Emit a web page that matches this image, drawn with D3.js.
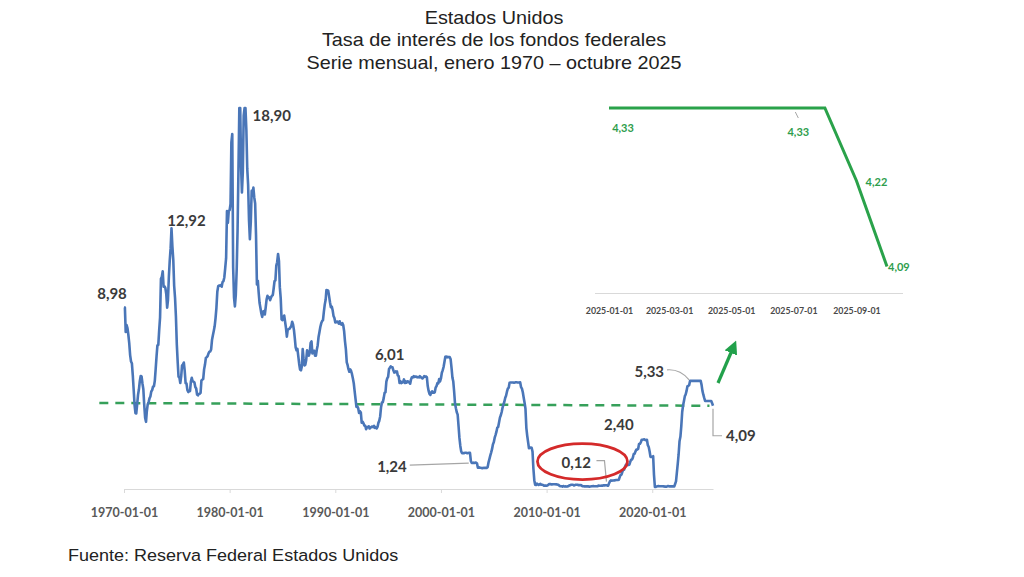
<!DOCTYPE html>
<html>
<head>
<meta charset="utf-8">
<script src="https://cdn.jsdelivr.net/npm/d3@7"></script>
<style>
  body { margin: 0; background: #fff; }
  svg { display: block; }
</style>
</head>
<body>
<div id="chart"></div>
<script>
// Tasa de fondos federales, mensual (una fila por año)
const rates1970s = [
  8.98, 8.98, 7.76, 8.10, 7.95, 7.61, 7.21, 6.61, 6.29, 6.20, 5.60, 4.90,
  4.14, 3.72, 3.71, 4.16, 4.63, 4.91, 5.31, 5.57, 5.55, 5.20, 4.91, 4.14,
  3.50, 3.29, 3.83, 4.17, 4.27, 4.46, 4.55, 4.80, 4.87, 5.04, 5.06, 5.33,
  5.94, 6.58, 7.09, 7.12, 7.84, 8.49, 10.40, 10.50, 10.78, 10.01, 10.03, 9.95,
  9.65, 8.97, 9.35, 10.51, 11.31, 11.93, 12.92, 12.01, 11.34, 10.06, 9.45, 8.53,
  7.13, 6.24, 5.54, 5.49, 5.22, 5.55, 6.10, 6.14, 6.24, 5.82, 5.22, 5.20,
  4.87, 4.77, 4.84, 4.82, 5.29, 5.48, 5.31, 5.29, 5.25, 5.02, 4.95, 4.65,
  4.61, 4.68, 4.69, 4.73, 5.35, 5.39, 5.42, 5.90, 6.14, 6.47, 6.51, 6.56,
  6.70, 6.78, 6.79, 6.89, 7.36, 7.60, 7.81, 8.04, 8.45, 8.96, 9.76, 10.03,
  10.07, 10.06, 10.09, 10.01, 10.24, 10.29, 10.47, 10.94, 11.43, 13.77, 13.18, 13.78
];
const rates1980s = [
  13.82, 14.13, 17.19, 17.61, 10.98, 9.47, 9.03, 9.61, 10.87, 12.81, 15.85, 18.90,
  18.90, 15.93, 14.70, 15.72, 18.52, 18.90, 18.90, 17.82, 15.87, 15.08, 13.31, 12.37,
  13.22, 14.78, 14.68, 14.94, 14.45, 14.15, 12.59, 10.12, 10.31, 9.71, 9.20, 8.95,
  8.68, 8.51, 8.77, 8.80, 8.63, 8.98, 9.37, 9.56, 9.45, 9.48, 9.34, 9.47,
  9.56, 9.59, 9.91, 10.29, 10.32, 11.06, 11.23, 11.64, 11.30, 9.99, 9.43, 8.38,
  8.35, 8.50, 8.58, 8.27, 7.97, 7.53, 7.88, 7.90, 7.92, 7.99, 8.05, 8.27,
  8.14, 7.86, 7.48, 6.99, 6.85, 6.92, 6.56, 6.17, 5.89, 5.85, 6.04, 6.91,
  6.43, 6.10, 6.13, 6.37, 6.85, 6.73, 6.58, 6.73, 7.22, 7.29, 6.69, 6.77,
  6.83, 6.58, 6.58, 6.87, 7.09, 7.51, 7.75, 8.01, 8.19, 8.30, 8.35, 8.76,
  9.12, 9.36, 9.85, 9.84, 9.81, 9.53, 9.24, 8.99, 9.02, 8.84, 8.55, 8.45
];
const rates1990s = [
  8.23, 8.24, 8.28, 8.26, 8.18, 8.29, 8.15, 8.13, 8.20, 8.11, 7.81, 7.31,
  6.91, 6.25, 6.12, 5.91, 5.78, 5.90, 5.82, 5.66, 5.45, 5.21, 4.81, 4.43,
  4.03, 4.06, 3.98, 3.73, 3.82, 3.76, 3.25, 3.30, 3.22, 3.10, 3.09, 2.92,
  3.02, 3.03, 3.07, 2.96, 3.00, 3.04, 3.06, 3.03, 3.09, 2.99, 3.02, 2.96,
  3.05, 3.25, 3.34, 3.56, 4.01, 4.25, 4.26, 4.47, 4.73, 4.76, 5.29, 5.45,
  5.53, 5.92, 5.98, 6.05, 6.01, 6.00, 5.85, 5.74, 5.80, 5.76, 5.80, 5.60,
  5.56, 5.22, 5.31, 5.22, 5.24, 5.27, 5.40, 5.22, 5.30, 5.24, 5.31, 5.29,
  5.25, 5.19, 5.39, 5.51, 5.50, 5.56, 5.52, 5.54, 5.54, 5.50, 5.52, 5.50,
  5.56, 5.51, 5.49, 5.45, 5.49, 5.56, 5.54, 5.55, 5.51, 5.07, 4.83, 4.68,
  4.63, 4.76, 4.81, 4.74, 4.74, 4.76, 4.99, 5.07, 5.22, 5.20, 5.42, 5.30
];
const rates2000s = [
  5.45, 5.73, 5.85, 6.02, 6.27, 6.53, 6.54, 6.50, 6.52, 6.51, 6.51, 6.40,
  5.98, 5.49, 5.31, 4.80, 4.21, 3.97, 3.77, 3.65, 3.07, 2.49, 2.09, 1.82,
  1.73, 1.74, 1.73, 1.75, 1.75, 1.75, 1.73, 1.74, 1.75, 1.75, 1.34, 1.24,
  1.24, 1.26, 1.25, 1.26, 1.26, 1.22, 1.01, 1.03, 1.01, 1.01, 1.00, 0.98,
  1.00, 1.01, 1.00, 1.00, 1.00, 1.03, 1.26, 1.43, 1.61, 1.76, 1.93, 2.16,
  2.28, 2.50, 2.63, 2.79, 3.00, 3.04, 3.26, 3.50, 3.62, 3.78, 4.00, 4.16,
  4.29, 4.49, 4.59, 4.79, 4.94, 4.99, 5.24, 5.25, 5.25, 5.25, 5.25, 5.24,
  5.25, 5.26, 5.26, 5.25, 5.25, 5.25, 5.26, 5.02, 4.94, 4.76, 4.49, 4.24,
  3.94, 2.98, 2.61, 2.28, 1.98, 2.00, 2.01, 2.00, 1.81, 0.97, 0.39, 0.16,
  0.15, 0.22, 0.18, 0.15, 0.18, 0.21, 0.16, 0.16, 0.15, 0.12, 0.12, 0.12
];
const rates2010s = [
  0.11, 0.13, 0.16, 0.20, 0.20, 0.18, 0.18, 0.19, 0.19, 0.19, 0.19, 0.18,
  0.17, 0.16, 0.14, 0.10, 0.09, 0.09, 0.07, 0.10, 0.08, 0.07, 0.08, 0.07,
  0.08, 0.10, 0.13, 0.14, 0.16, 0.16, 0.16, 0.13, 0.14, 0.16, 0.16, 0.16,
  0.14, 0.15, 0.14, 0.15, 0.11, 0.09, 0.09, 0.08, 0.08, 0.09, 0.08, 0.09,
  0.07, 0.07, 0.08, 0.09, 0.09, 0.10, 0.09, 0.09, 0.09, 0.09, 0.09, 0.12,
  0.11, 0.11, 0.11, 0.12, 0.12, 0.13, 0.13, 0.14, 0.14, 0.12, 0.12, 0.24,
  0.34, 0.38, 0.36, 0.37, 0.37, 0.38, 0.39, 0.40, 0.40, 0.40, 0.41, 0.54,
  0.65, 0.66, 0.79, 0.90, 0.91, 1.04, 1.15, 1.16, 1.15, 1.15, 1.16, 1.30,
  1.41, 1.42, 1.51, 1.69, 1.70, 1.82, 1.91, 1.91, 1.95, 2.19, 2.20, 2.27,
  2.40, 2.40, 2.41, 2.42, 2.39, 2.38, 2.40, 2.13, 2.04, 1.83, 1.55, 1.55
];
const rates2020s = [
  1.55, 1.58, 0.65, 0.05, 0.05, 0.08, 0.09, 0.10, 0.09, 0.09, 0.09, 0.09,
  0.09, 0.08, 0.07, 0.07, 0.06, 0.08, 0.10, 0.09, 0.08, 0.08, 0.08, 0.08,
  0.08, 0.08, 0.20, 0.33, 0.77, 1.21, 1.68, 2.33, 2.56, 3.08, 3.78, 4.10,
  4.33, 4.57, 4.65, 4.83, 5.06, 5.08, 5.12, 5.33, 5.33, 5.33, 5.33, 5.33,
  5.33, 5.33, 5.33, 5.33, 5.33, 5.33, 5.33, 5.33, 5.13, 4.83, 4.64, 4.48,
  4.33, 4.33, 4.33, 4.33, 4.33, 4.33, 4.33, 4.33, 4.22, 4.09
];

const xTicks = ["1970-01-01", "1980-01-01", "1990-01-01", "2000-01-01", "2010-01-01", "2020-01-01"];

// linea de referencia (verde punteada)
const refDates = ["1967-09-01", "2025-06-01"];
const refValues = [4.23, 4.09];

// recuadro 2025
const insetDates = ["2025-01-01", "2025-02-01", "2025-03-01", "2025-04-01", "2025-05-01",
                    "2025-06-01", "2025-07-01", "2025-08-01", "2025-09-01", "2025-10-01"];
const insetValues = [4.33, 4.33, 4.33, 4.33, 4.33, 4.33, 4.33, 4.33, 4.22, 4.09];
const insetTicks = ["2025-01-01", "2025-03-01", "2025-05-01", "2025-07-01", "2025-09-01"];

const parse = d3.timeParse("%Y-%m-%d");
const fmt = d3.timeFormat("%Y-%m-%d");
const comma = v => v.toFixed(2).replace(".", ",");

// armar la serie mensual
let series = [];
[[1970, rates1970s], [1980, rates1980s], [1990, rates1990s],
 [2000, rates2000s], [2010, rates2010s], [2020, rates2020s]].forEach(([y0, arr]) => {
  arr.forEach((v, i) => {
    series.push({ date: new Date(y0 + Math.floor(i / 12), i % 12, 1), value: v });
  });
});

const svg = d3.select("#chart").append("svg")
  .attr("width", 1024)
  .attr("height", 577);

// titulos (el original viene algo estirado a lo ancho)
const titles = ["Estados Unidos", "Tasa de interés de los fondos federales", "Serie mensual, enero 1970 – octubre 2025"];
svg.append("g")
  .attr("transform", "translate(494,0) scale(1.1,1)")
  .selectAll("text").data(titles).enter().append("text")
  .attr("x", 0)
  .attr("y", (d, i) => 24 + i * 22.5)
  .attr("text-anchor", "middle")
  .attr("font-family", "Liberation Sans, Arial, sans-serif")
  .attr("font-size", 18)
  .attr("fill", "#222")
  .text(d => d);

// escalas del grafico principal
const x = d3.scaleTime()
  .domain([parse("1970-01-01"), parse("2025-10-01")])
  .range([124, 713]);
const y = d3.scaleLinear()
  .domain([0, 18.9])
  .range([488, 108]);

// eje x
const xAxis = svg.append("g")
  .attr("transform", "translate(0,489)")
  .call(d3.axisBottom(x)
    .tickValues(xTicks.map(parse))
    .tickFormat(fmt)
    .tickSize(4)
    .tickSizeOuter(0));
xAxis.select(".domain").attr("stroke", "#d9d9d9").attr("stroke-width", 1.2);
xAxis.selectAll(".tick line").attr("stroke", "#d9d9d9");
xAxis.selectAll(".tick text")
  .attr("dy", 0)
  .attr("y", 28)
  .attr("font-family", "Lato, sans-serif")
  .attr("font-weight", "bold")
  .attr("font-size", 12.5)
  .attr("fill", "#595959");

// linea de referencia
svg.append("line")
  .attr("x1", x(parse(refDates[0])))
  .attr("y1", y(refValues[0]))
  .attr("x2", x(parse(refDates[1])))
  .attr("y2", y(refValues[1]))
  .attr("stroke", "#36a05a")
  .attr("stroke-width", 2.5)
  .attr("stroke-dasharray", "9,7");

// serie principal
const line = d3.line()
  .x(d => x(d.date))
  .y(d => y(d.value));
svg.append("path")
  .datum(series)
  .attr("d", line)
  .attr("fill", "none")
  .attr("stroke", "#4a76b8")
  .attr("stroke-width", 2.6)
  .attr("stroke-linejoin", "round");

// etiquetas
const labelFont = "Lato, sans-serif";
function label(txt, px, py, anchor) {
  svg.append("text")
    .attr("x", px)
    .attr("y", py)
    .attr("text-anchor", anchor || "start")
    .attr("font-family", labelFont)
    .attr("font-weight", "bold")
    .attr("font-size", 15)
    .attr("fill", "#3a3a3a")
    .text(txt);
}
const pt = (s, v) => [x(parse(s)), y(v)];

let p = pt("1970-01-01", 8.98);
label(comma(8.98), p[0] - 12, p[1] - 8, "middle");
p = pt("1974-07-01", 12.92);
label(comma(12.92), p[0] + 15, p[1] - 2, "middle");
p = pt("1981-06-01", 18.90);
label(comma(18.90), p[0] + 8, p[1] + 13);
p = pt("1995-04-01", 6.01);
label(comma(6.01), p[0] - 1, p[1] - 7, "middle");
p = pt("2019-01-01", 2.40);
label(comma(2.40), p[0] - 8, p[1] - 10, "end");

// 1,24 con guia
p = pt("2002-12-01", 1.24);
svg.append("line")
  .attr("x1", p[0] - 3).attr("y1", p[1])
  .attr("x2", p[0] - 62).attr("y2", p[1] + 2)
  .attr("stroke", "#a6a6a6").attr("stroke-width", 1.2);
label(comma(1.24), p[0] - 65, p[1] + 9, "end");

// 0,12 con guia y elipse
p = pt("2015-09-01", 0.12);
svg.append("path")
  .attr("d", `M${p[0] - 10},${p[1] - 25} L${p[0] - 2},${p[1] - 25} L${p[0]},${p[1] - 4}`)
  .attr("fill", "none").attr("stroke", "#a6a6a6").attr("stroke-width", 1.2);
label(comma(0.12), p[0] - 45, p[1] - 18, "start");
svg.append("ellipse")
  .attr("cx", p[0] - 24)
  .attr("cy", p[1] - 24)
  .attr("rx", 45)
  .attr("ry", 18)
  .attr("fill", "none")
  .attr("stroke", "#d42a2a")
  .attr("stroke-width", 2.8);

// 5,33 con guia
p = pt("2023-08-01", 5.33);
svg.append("path")
  .attr("d", `M${p[0] - 23},${p[1] - 11} Q${p[0] - 10},${p[1] - 12} ${p[0] - 1},${p[1] - 1}`)
  .attr("fill", "none").attr("stroke", "#a6a6a6").attr("stroke-width", 1.2);
label(comma(5.33), p[0] - 26, p[1] - 4, "end");

// 4,09 con guia
p = pt("2025-10-01", 4.09);
svg.append("path")
  .attr("d", `M${p[0]},${p[1] + 3} L${p[0]},${p[1] + 30} L${p[0] + 9},${p[1] + 30}`)
  .attr("fill", "none").attr("stroke", "#a6a6a6").attr("stroke-width", 1.2);
label(comma(4.09), p[0] + 13, p[1] + 35, "start");

// flecha verde hacia el recuadro
svg.append("defs").append("marker")
  .attr("id", "arrow")
  .attr("viewBox", "0 0 10 10")
  .attr("refX", 4).attr("refY", 5)
  .attr("markerWidth", 4.2).attr("markerHeight", 4.2)
  .attr("orient", "auto")
  .append("path")
  .attr("d", "M0,0 L10,5 L0,10 Z")
  .attr("fill", "#22a14b");
svg.append("line")
  .attr("x1", 718).attr("y1", 383)
  .attr("x2", 733).attr("y2", 348)
  .attr("stroke", "#22a14b")
  .attr("stroke-width", 3.2)
  .attr("marker-end", "url(#arrow)");

// ---- recuadro 2025 ----
const xi = d3.scaleTime()
  .domain([parse("2025-01-01"), parse("2025-10-01")])
  .range([609, 887]);
const yi = d3.scaleLinear()
  .domain([4.05, 4.33])
  .range([293, 108]);

svg.append("line")
  .attr("x1", 595).attr("x2", 903)
  .attr("y1", 293.5).attr("y2", 293.5)
  .attr("stroke", "#d9d9d9").attr("stroke-width", 1.2);
const iAxis = svg.append("g")
  .attr("transform", "translate(0,293.5)")
  .call(d3.axisBottom(xi)
    .tickValues(insetTicks.map(parse))
    .tickFormat(fmt)
    .tickSize(0)
    .tickSizeOuter(0));
iAxis.select(".domain").remove();
iAxis.selectAll(".tick text")
  .attr("dy", 0)
  .attr("y", 20)
  .attr("font-family", "Lato, sans-serif")
  .attr("font-weight", "bold")
  .attr("font-size", 8.8)
  .attr("fill", "#4a4a4a");

const insetData = insetDates.map((d, i) => ({ date: parse(d), value: insetValues[i] }));
svg.append("path")
  .datum(insetData)
  .attr("d", d3.line().x(d => xi(d.date)).y(d => yi(d.value)))
  .attr("fill", "none")
  .attr("stroke", "#2aa24a")
  .attr("stroke-width", 3);

function greenLabel(txt, px, py, anchor) {
  svg.append("text")
    .attr("x", px).attr("y", py)
    .attr("text-anchor", anchor || "middle")
    .attr("font-family", labelFont)
    .attr("font-weight", "bold")
    .attr("font-size", 11)
    .attr("fill", "#2e9d4c")
    .text(txt);
}
greenLabel(comma(insetValues[0]), xi(insetData[0].date) + 14, yi(insetValues[0]) + 24);
greenLabel(comma(insetValues[6]), xi(insetData[6].date) + 5, yi(insetValues[6]) + 28);
svg.append("line")
  .attr("x1", xi(insetData[6].date) + 2).attr("y1", yi(insetValues[6]) + 4)
  .attr("x2", xi(insetData[6].date) + 5).attr("y2", yi(insetValues[6]) + 10)
  .attr("stroke", "#a6a6a6").attr("stroke-width", 1);
greenLabel(comma(insetValues[8]), xi(insetData[8].date) + 20, yi(insetValues[8]) + 5);
greenLabel(comma(insetValues[9]), xi(insetData[9].date) + 1, yi(insetValues[9]) + 4, "start");

// fuente
svg.append("text")
  .attr("transform", "translate(68,561) scale(1.06,1)")
  .attr("font-family", "Liberation Sans, Arial, sans-serif")
  .attr("font-size", 17)
  .attr("fill", "#222")
  .text("Fuente: Reserva Federal Estados Unidos");
</script>
</body>
</html>
